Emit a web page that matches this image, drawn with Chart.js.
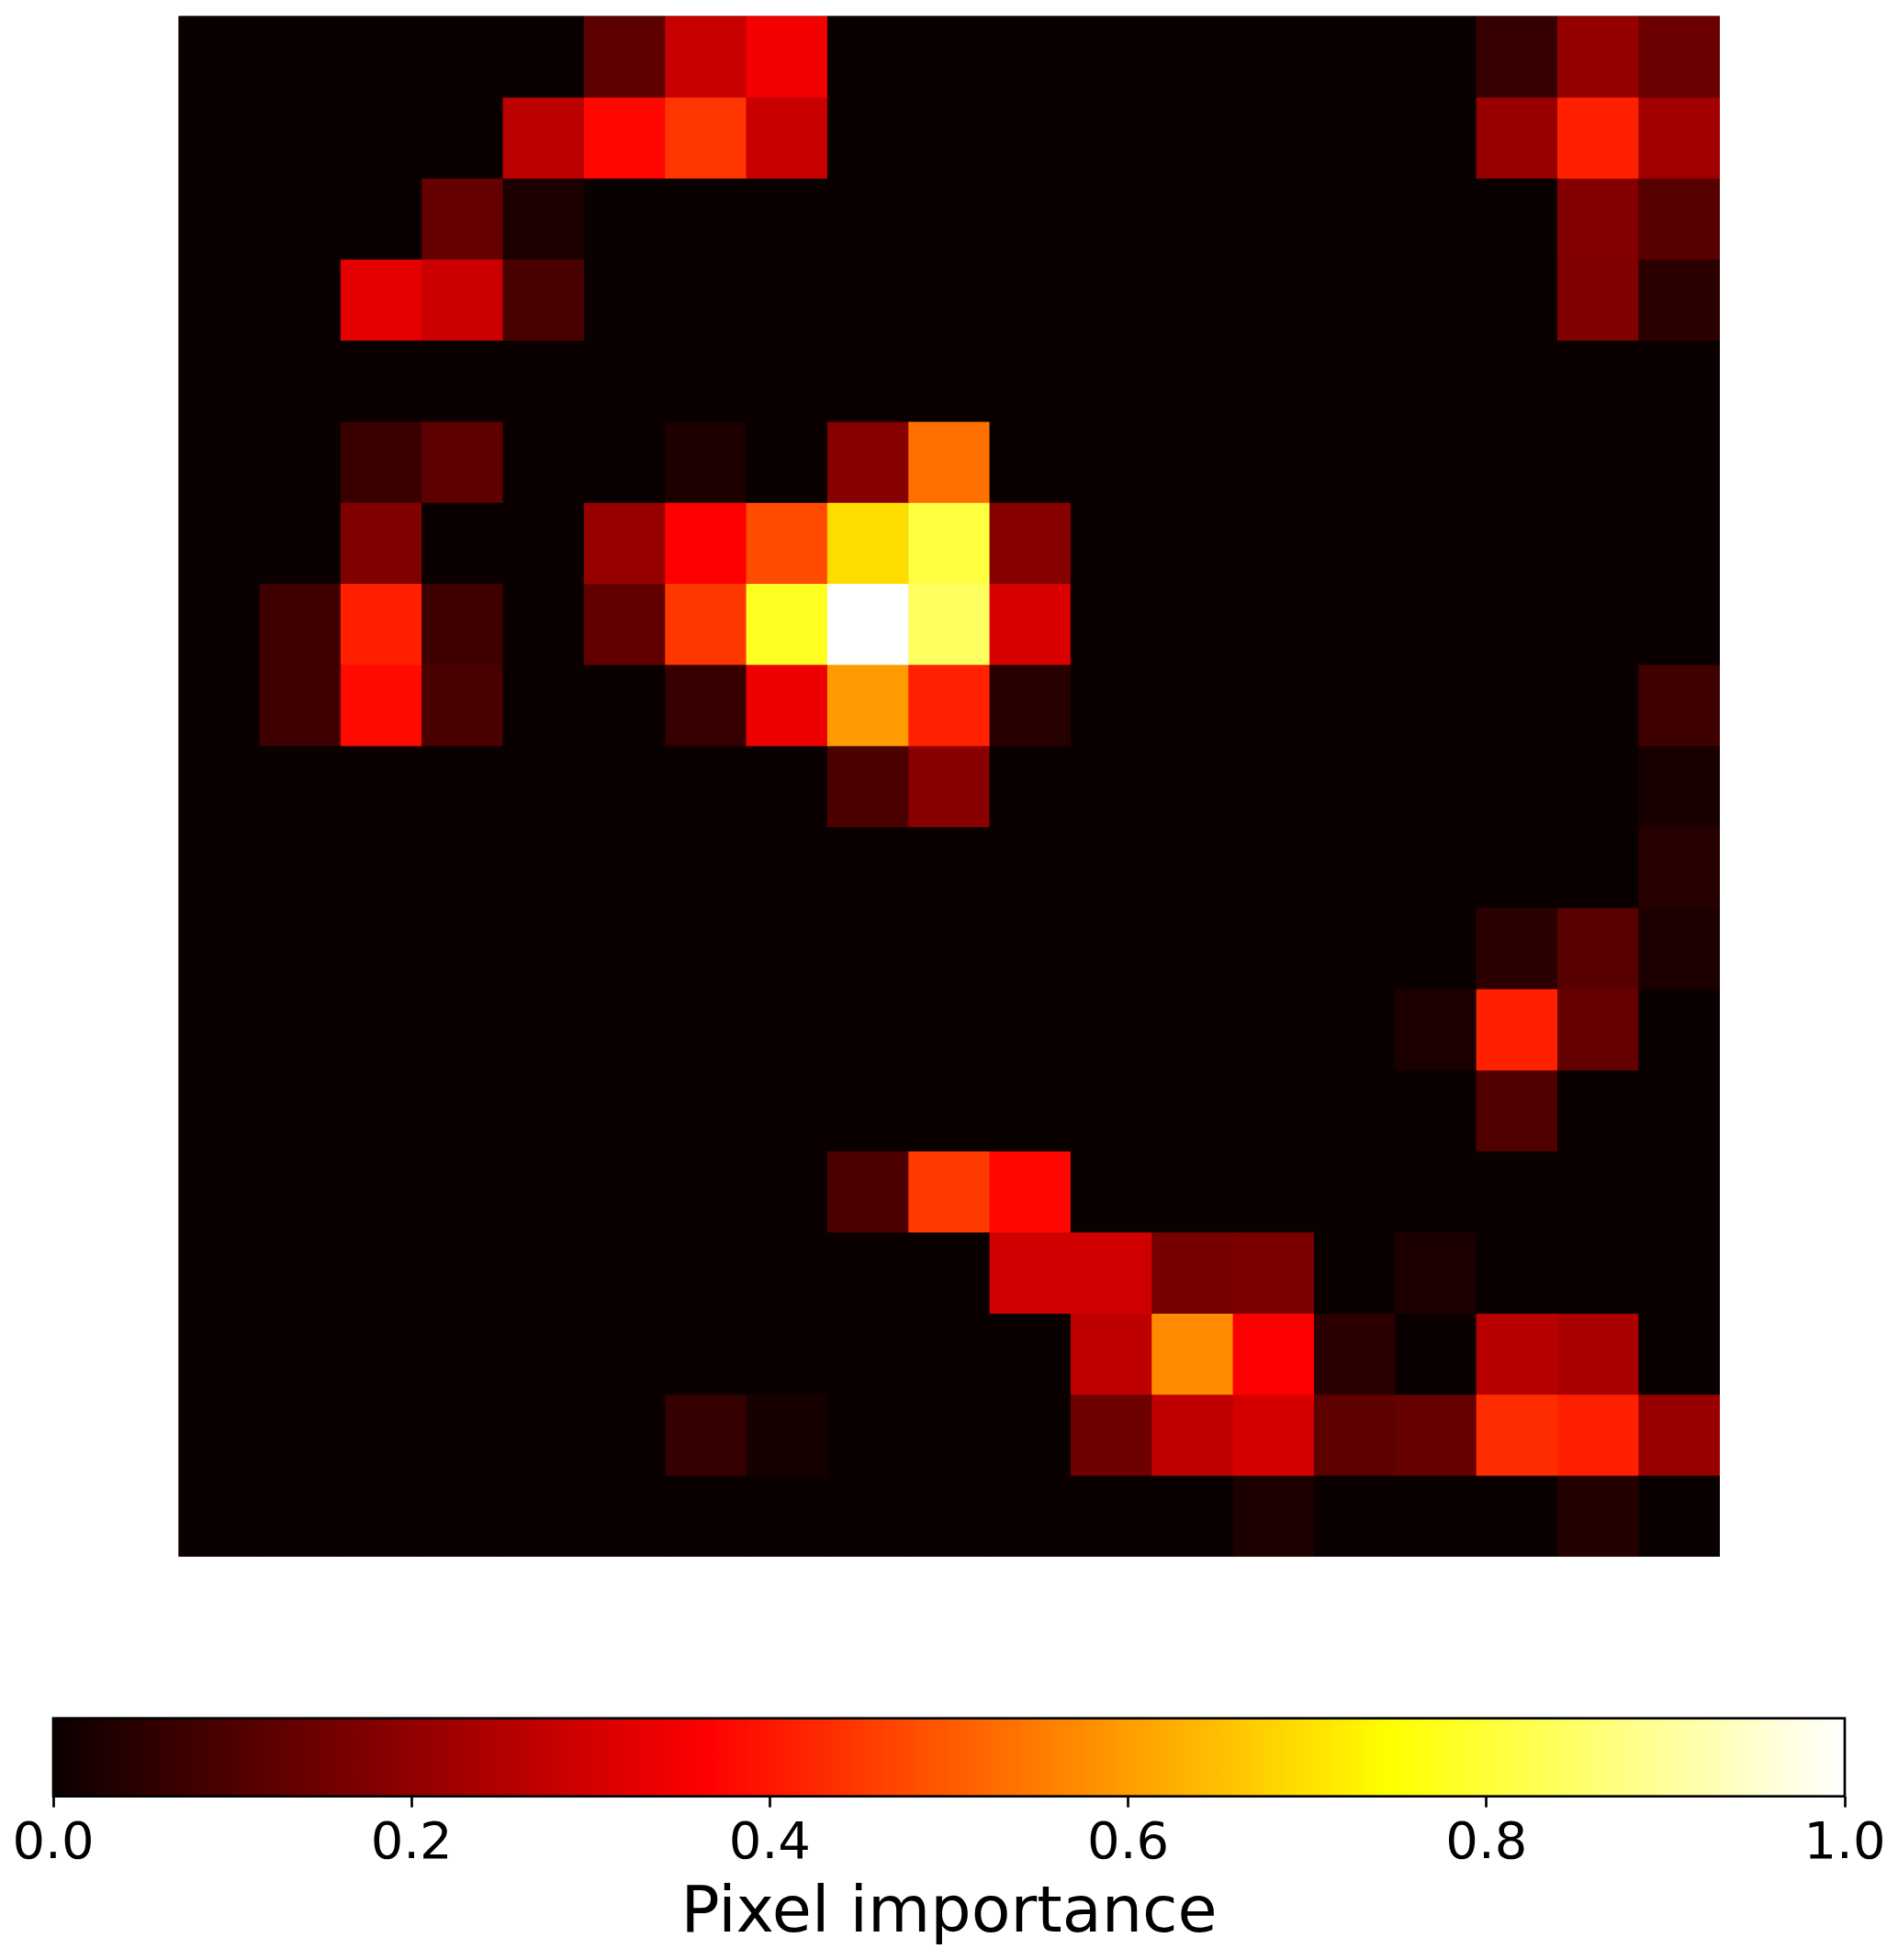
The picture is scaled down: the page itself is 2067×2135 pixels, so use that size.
<!DOCTYPE html>
<html>
<head>
<meta charset="utf-8">
<title>Pixel importance</title>
<script src="https://cdn.jsdelivr.net/npm/chart.js@4/dist/chart.umd.min.js"></script>
<style>
  html, body { margin: 0; padding: 0; background: #fff; }
  canvas { position: absolute; left: 0; display: block; }
  #heat { top: 0; }
  #bar { top: 1740px; }
</style>
</head>
<body>
<canvas id="heat" width="2067" height="1740"></canvas>
<canvas id="bar" width="2067" height="395"></canvas>
<script>
'use strict';

// column labels of the image
const pixel_cols = [0, 1, 2, 3, 4, 5, 6, 7, 8, 9, 10, 11, 12, 13, 14, 15, 16, 17, 18];

// importance per pixel, top row first
const row_00 = [0, 0, 0, 0, 0, .122, .283, .35, 0, 0, 0, 0, 0, 0, 0, 0, .065, .205, .146];
const row_01 = [0, 0, 0, 0, .263, .375, .445, .283, 0, 0, 0, 0, 0, 0, 0, 0, .211, .413, .226];
const row_02 = [0, 0, 0, .134, .026, 0, 0, 0, 0, 0, 0, 0, 0, 0, 0, 0, 0, .181, .113];
const row_03 = [0, 0, .325, .289, .092, 0, 0, 0, 0, 0, 0, 0, 0, 0, 0, 0, 0, .175, .05];
const row_04 = [0, 0, 0, 0, 0, 0, 0, 0, 0, 0, 0, 0, 0, 0, 0, 0, 0, 0, 0];
const row_05 = [0, 0, .071, .122, 0, 0, .026, 0, .184, .532, 0, 0, 0, 0, 0, 0, 0, 0, 0];
const row_06 = [0, 0, .175, 0, 0, .211, .365, .478, .694, .81, .184, 0, 0, 0, 0, 0, 0, 0, 0];
const row_07 = [0, .077, .413, .077, 0, .13, .448, .78, 1, .842, .307, 0, 0, 0, 0, 0, 0, 0, 0];
const row_08 = [0, .077, .38, .092, 0, 0, .065, .34, .595, .415, .042, 0, 0, 0, 0, 0, 0, 0, .077];
const row_09 = [0, 0, 0, 0, 0, 0, 0, 0, .098, .187, 0, 0, 0, 0, 0, 0, 0, 0, .02];
const row_10 = [0, 0, 0, 0, 0, 0, 0, 0, 0, 0, 0, 0, 0, 0, 0, 0, 0, 0, .042];
const row_11 = [0, 0, 0, 0, 0, 0, 0, 0, 0, 0, 0, 0, 0, 0, 0, 0, .05, .116, .026];
const row_12 = [0, 0, 0, 0, 0, 0, 0, 0, 0, 0, 0, 0, 0, 0, 0, .026, .413, .134, 0];
const row_13 = [0, 0, 0, 0, 0, 0, 0, 0, 0, 0, 0, 0, 0, 0, 0, 0, .104, 0, 0];
const row_14 = [0, 0, 0, 0, 0, 0, 0, 0, .098, .45, .375, 0, 0, 0, 0, 0, 0, 0, 0];
const row_15 = [0, 0, 0, 0, 0, 0, 0, 0, 0, 0, .295, .295, .16, .166, 0, .026, 0, 0, 0];
const row_16 = [0, 0, 0, 0, 0, 0, 0, 0, 0, 0, 0, .269, .571, .365, .05, 0, .259, .241, 0];
const row_17 = [0, 0, 0, 0, 0, 0, .062, .018, 0, 0, 0, .148, .268, .301, .122, .134, .433, .413, .211];
const row_18 = [0, 0, 0, 0, 0, 0, 0, 0, 0, 0, 0, 0, 0, .026, 0, 0, 0, .038, 0];

const pixel_rows = [
  row_00, row_01, row_02, row_03, row_04, row_05, row_06, row_07, row_08, row_09,
  row_10, row_11, row_12, row_13, row_14, row_15, row_16, row_17, row_18,
];

// colorbar ticks
const tick_values = [0, 0.2, 0.4, 0.6, 0.8, 1];
const tick_labels = ['0.0', '0.2', '0.4', '0.6', '0.8', '1.0'];
const bar_title = 'Pixel importance';

// "hot" colormap anchors: value, r, g, b
const hot_stops = [
  [0, 10.6, 0, 0],
  [0.365, 255, 0, 0],
  [0.746, 255, 255, 0],
  [1, 255, 255, 255],
];

const hot_color = (v) => {
  const i = Math.max(hot_stops.findIndex((s) => s[0] >= v) - 1, 0),
        a = hot_stops[i],
        b = hot_stops[i + 1],
        t = (v - a[0]) / (b[0] - a[0]),
        mix = (n) => Math.round(a[n] + (b[n] - a[n]) * t);
  return `rgb(${mix(1)}, ${mix(2)}, ${mix(3)})`;
};

const FONT = 'DejaVu Sans';

// dark fill under the cells, hides the seams between stacked bars
const under_plugin = {
  id: 'under',
  beforeDatasetsDraw: (chart) => {
    const { left, top, width, height } = chart.chartArea;
    chart.ctx.save();
    chart.ctx.fillStyle = hot_color(0);
    chart.ctx.fillRect(left, top, width, height);
    chart.ctx.restore();
  },
};

// each image row is one stack segment, colored per pixel
new Chart(document.getElementById('heat'), {
  type: 'bar',
  plugins: [under_plugin],
  data: {
    labels: pixel_cols,
    datasets: pixel_rows.map((row) => ({
      data: row.map(() => 1),
      backgroundColor: row.map(hot_color),
      barPercentage: 1,
      categoryPercentage: 1,
      stack: 'image',
    })),
  },
  options: {
    responsive: false,
    animation: false,
    layout: { padding: { left: 194.5, right: 194, top: 17.5, bottom: 44.5 } },
    plugins: { legend: { display: false }, tooltip: { enabled: false } },
    scales: {
      x: { display: false, stacked: true },
      y: { display: false, stacked: true, reverse: true, min: 0, max: pixel_rows.length },
    },
  },
});

// colorbar frame
const frame_plugin = {
  id: 'frame',
  afterDatasetsDraw: (chart) => {
    const { left, top, width, height } = chart.chartArea;
    chart.ctx.save();
    chart.ctx.strokeStyle = '#000';
    chart.ctx.lineWidth = 2.7;
    chart.ctx.strokeRect(left, top, width, height);
    chart.ctx.restore();
  },
};

new Chart(document.getElementById('bar'), {
  type: 'bar',
  plugins: [frame_plugin],
  data: {
    labels: [bar_title],
    datasets: [{
      data: [1],
      barPercentage: 1,
      categoryPercentage: 1,
      backgroundColor: (c) => {
        const area = c.chart.chartArea;
        if (!area) return '#000';
        const g = c.chart.ctx.createLinearGradient(area.left, 0, area.right, 0);
        hot_stops.forEach((s) => g.addColorStop(s[0], hot_color(s[0])));
        return g;
      },
    }],
  },
  options: {
    indexAxis: 'y',
    responsive: false,
    animation: false,
    layout: { padding: { left: 58, right: 58, top: 131.7, bottom: 0 } },
    plugins: { legend: { display: false }, tooltip: { enabled: false } },
    scales: {
      y: { display: false },
      x: {
        min: 0,
        max: 1,
        afterBuildTicks: (axis) => {
          axis.ticks = tick_values.map((value) => ({ value }));
        },
        afterFit: (axis) => { axis.height = 178.3; },
        border: { display: false },
        grid: {
          drawOnChartArea: false,
          drawTicks: true,
          tickLength: 12,
          tickWidth: 2.7,
          tickColor: '#000',
        },
        ticks: {
          autoSkip: false,
          maxRotation: 0,
          padding: 7,
          color: '#000',
          font: { family: FONT, size: 56 },
          callback: (v, i) => tick_labels[i],
        },
        title: {
          display: true,
          text: bar_title,
          color: '#000',
          font: { family: FONT, size: 70 },
          padding: { top: 0, bottom: 7 },
        },
      },
    },
  },
});
</script>
</body>
</html>
